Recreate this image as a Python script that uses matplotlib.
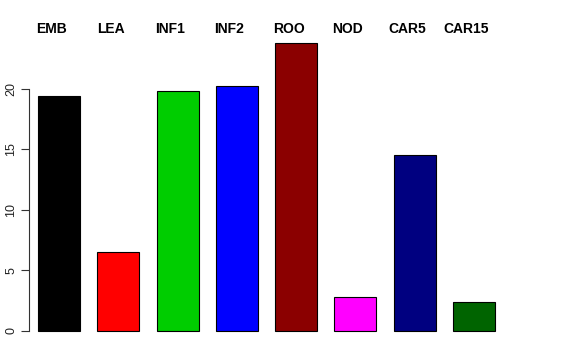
import matplotlib
matplotlib.use("Agg")
import matplotlib.pyplot as plt
import numpy as np

# bar data
labels = ["EMB", "LEA", "INF1", "INF2", "ROO", "NOD", "CAR5", "CAR15"]
values = [19.45, 6.5, 19.85, 20.28, 23.82, 2.76, 14.52, 2.38]
colors = ["#000000", "#FF0000", "#00CD00", "#0000FF", "#8B0000", "#FF00FF", "#000080", "#006400"]
yticks = [0, 5, 10, 15, 20]

plt.rcParams["font.family"] = ["Liberation Sans", "DejaVu Sans"]

fig = plt.figure(figsize=(5.76, 3.6), dpi=100)

# axes placed in pixels: left edge at the y axis line
px_x, px_unit = 49.4, 12.08
left_px, width_px = 29, 520
bottom_px, top_px = 341, 20
ax = fig.add_axes([left_px / 576, (360 - bottom_px) / 360,
                   width_px / 576, (bottom_px - top_px) / 360])

bar_w = 42 / px_x
centers = 0.7 + 1.2 * np.arange(len(values))
x0 = centers[0] - bar_w / 2 - 9 / px_x
ax.set_xlim(x0, x0 + width_px / px_x)
ax.set_ylim(-(bottom_px - 330.7) / px_unit, (330.7 - top_px) / px_unit)

ax.bar(centers, values, width=bar_w, color=colors, edgecolor="black", linewidth=0.8)

# category labels above the plot
label_y = (330.7 - 29) / px_unit
for c, lab in zip(centers, labels):
    ax.text(c - 0.15, label_y, lab, ha="center", va="center",
            fontsize=10, fontweight="bold", clip_on=False)

for s in ["top", "right", "bottom"]:
    ax.spines[s].set_visible(False)
ax.spines["left"].set_bounds(0, 20)
ax.spines["left"].set_color("#333333")
ax.spines["left"].set_linewidth(0.8)
ax.set_xticks([])
ax.set_yticks(yticks)
ax.set_yticklabels([str(t) for t in yticks], rotation=90, va="center")
ax.tick_params(axis="y", length=5.5, width=0.8, color="#333333",
               labelsize=9, pad=3, labelcolor="#222222")

fig.savefig("out.png", dpi=100)
